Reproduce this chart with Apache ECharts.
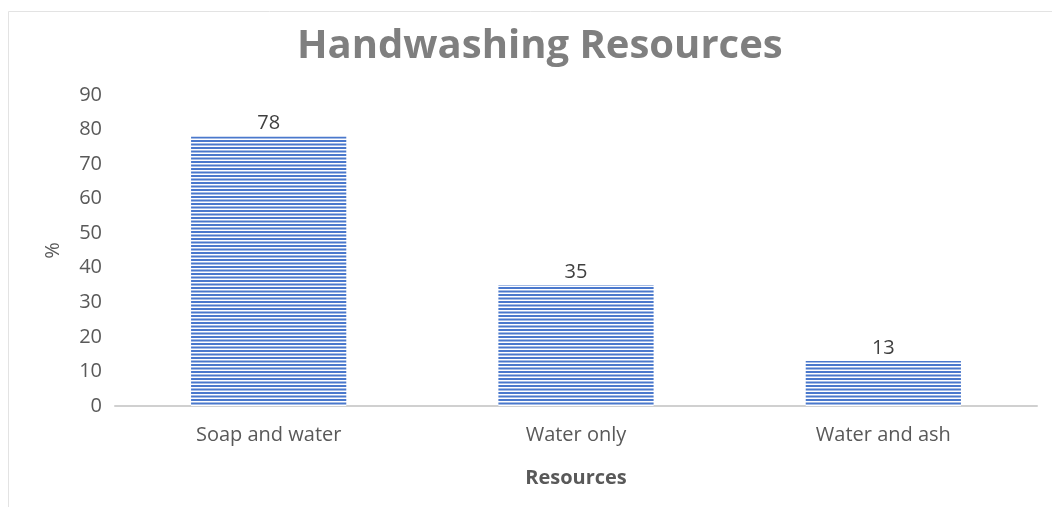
<!DOCTYPE html>
<html>
<head>
<meta charset="utf-8">
<script src="https://cdn.jsdelivr.net/npm/echarts@6/dist/echarts.min.js"></script>
<style>
  html, body { margin: 0; padding: 0; background: #fff; }
  #chart { width: 1052px; height: 507px; }
</style>
</head>
<body>
<div id="chart"></div>
<script>
// Handwashing resources, share of respondents (%)
const categories = ['Soap and water', 'Water only', 'Water and ash'];
const values = [78, 35, 13];
const yTicks = { min: 0, max: 90, interval: 10 };

// Horizontal-stripe fill for the bars
function stripeTile() {
  const c = document.createElement('canvas');
  c.width = 4; c.height = 7;
  const ctx = c.getContext('2d');
  ctx.fillStyle = '#ffffff';
  ctx.fillRect(0, 0, 4, 7);
  ctx.fillStyle = '#4a78cc';
  ctx.fillRect(0, 0, 4, 2);
  ctx.fillRect(0, 3.5, 4, 2);
  return c;
}

const chart = echarts.init(document.getElementById('chart'), null, { renderer: 'canvas' });
const font = '"Open Sans", "Noto Sans", sans-serif';

chart.setOption({
  animation: false,
  backgroundColor: '#ffffff',
  textStyle: { fontFamily: font },
  graphic: [{
    type: 'rect',
    shape: { x: 8.5, y: 11.5, width: 1100, height: 600 },
    style: { fill: 'none', stroke: '#e3e3e3', lineWidth: 1 },
    silent: true
  }],
  title: {
    text: 'Handwashing Resources',
    left: 292,
    top: 22,
    textStyle: { fontFamily: font, fontSize: 40, fontWeight: 'bold', color: '#7f7f7f' }
  },
  grid: { left: 115, right: 15, top: 95, bottom: 101, containLabel: false },
  xAxis: {
    type: 'category',
    data: categories,
    name: 'Resources',
    nameLocation: 'middle',
    nameGap: 62,
    nameTextStyle: { fontFamily: font, fontSize: 20, fontWeight: 'bold', color: '#595959' },
    axisLine: { lineStyle: { color: '#d0d0d0', width: 2 } },
    axisTick: { show: false },
    axisLabel: { fontSize: 20, color: '#595959', margin: 19, fontFamily: font }
  },
  yAxis: {
    type: 'value',
    min: yTicks.min,
    max: yTicks.max,
    interval: yTicks.interval,
    name: '%',
    nameLocation: 'middle',
    nameGap: 52,
    nameRotate: 90,
    nameTextStyle: { fontFamily: font, fontSize: 20, color: '#595959' },
    axisLine: { show: false },
    axisTick: { show: false },
    splitLine: { show: false },
    axisLabel: { fontSize: 20, color: '#595959', margin: 13, fontFamily: font }
  },
  series: [{
    type: 'bar',
    data: values,
    barWidth: '50.5%',
    itemStyle: { color: { image: stripeTile(), repeat: 'repeat' } },
    label: {
      show: true,
      position: 'top',
      distance: 3,
      fontSize: 20,
      color: '#404040',
      fontFamily: font
    }
  }]
});
</script>
</body>
</html>
